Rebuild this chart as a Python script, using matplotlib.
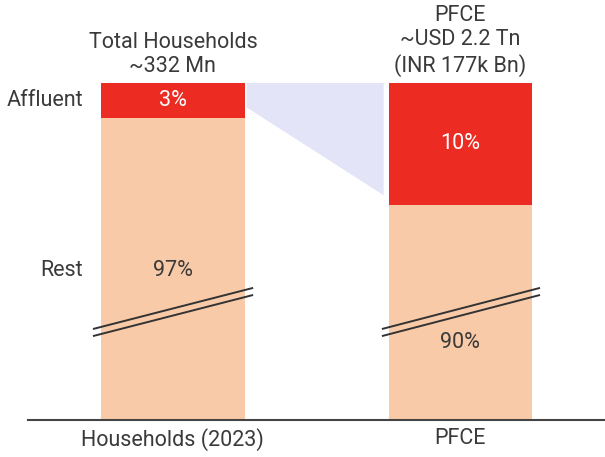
import matplotlib
matplotlib.use('Agg')
import matplotlib.pyplot as plt
import numpy as np

plt.rcParams['font.family'] = ['Roboto', 'DejaVu Sans']

# categories and shares (%)
categories = ['Households (2023)', 'PFCE']
headers = ['Total Households\n~332 Mn', 'PFCE\n~USD 2.2 Tn\n(INR 177k Bn)']
segments = ['Affluent', 'Rest']
affluent_pct = [3, 10]
rest_pct = [97, 90]

# the value axis is broken, so drawn heights are not to scale
drawn_affluent = [10.4, 36.2]
drawn_rest = [89.6, 63.8]
rest_label_y = [44.5, 23.1]

red = '#EC2B23'
peach = '#F9CAA7'
lavender = '#E4E4F8'
txt = '#3a3a3a'
fs = 15.5

fig = plt.figure(figsize=(6.05, 4.57), dpi=100)
ax = fig.add_axes([28 / 605, 37 / 457, 577 / 605, 337 / 457])

x = np.arange(len(categories))
w = 0.5
ax.bar(x, drawn_rest, w, color=peach, zorder=2)
ax.bar(x, drawn_affluent, w, bottom=drawn_rest, color=red, zorder=2)

# lavender band linking the affluent segments
top = drawn_rest[0] + drawn_affluent[0]
x0 = x[0] + w / 2 + 0.007
x1 = x[1] - w / 2 - 0.017
y0 = drawn_rest[0] + drawn_affluent[0] * 0.3
y1 = drawn_rest[1] + drawn_affluent[1] * 0.08
ax.fill([x0, x1, x1, x0], [top + 0.3, top + 0.3, y1, y0], color=lavender, lw=0, zorder=1)

# value labels
for i in range(len(x)):
    ax.text(x[i], drawn_rest[i] + drawn_affluent[i] / 2, f'{affluent_pct[i]}%',
            ha='center', va='center', color='white', fontsize=fs)
    ax.text(x[i], rest_label_y[i], f'{rest_pct[i]}%', ha='center', va='center',
            color=txt, fontsize=fs)

# segment names on the left
ax.text(-0.313, drawn_rest[0] + drawn_affluent[0] / 2, segments[0], ha='right', va='center',
        color=txt, fontsize=fs)
ax.text(-0.313, rest_label_y[0], segments[1], ha='right', va='center', color=txt,
        fontsize=fs)

# headers above bars
for i in range(len(x)):
    ax.text(x[i], 101.8, headers[i], ha='center', va='bottom', color=txt,
            fontsize=fs, linespacing=1.2)

# break markers
break_x = [(-0.278, 0.279), (0.727, 1.277)]
for xs in break_x:
    for off in [0, -2.1]:
        ax.plot(xs, np.array([27.0, 39.2]) + off, color='#333333', lw=1.4, zorder=3,
                solid_capstyle='butt')

ax.set_xlim(-0.504, 1.503)
ax.set_ylim(0, 100)
ax.set_xticks(x)
ax.set_xticklabels(categories, fontsize=fs, color=txt)
ax.tick_params(axis='x', length=0, pad=6)
ax.set_yticks([])
for s in ['top', 'right', 'left']:
    ax.spines[s].set_visible(False)
ax.spines['bottom'].set_color('#444444')
ax.spines['bottom'].set_linewidth(1.5)
ax.patch.set_visible(False)

fig.savefig('out.png', dpi=100)
